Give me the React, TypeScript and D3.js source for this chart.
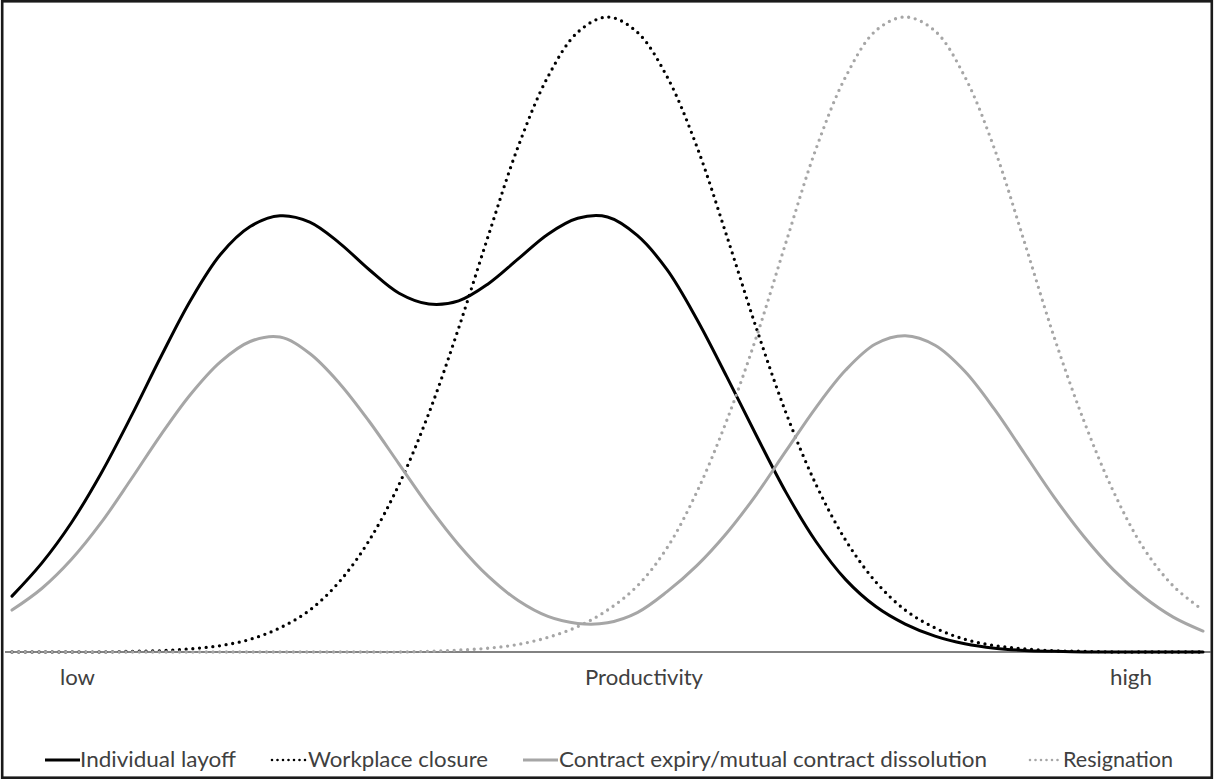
import React, { useEffect, useRef } from "react";
import * as d3 from "d3";

// Productivity position of each reading (0 = low, 100 = high)
const productivity = [
  0, 2.5, 5, 7.5, 10, 12.5, 15, 17.5, 20, 22.5, 25, 27.5, 30, 32.5, 35, 37.5,
  40, 42.5, 45, 47.5, 50, 52.5, 55, 57.5, 60, 62.5, 65, 67.5, 70, 72.5, 75,
  77.5, 80, 82.5, 85, 87.5, 90, 92.5, 95, 97.5, 100,
];

// Relative frequency (peak of the tallest curve = 100)
const layoff = [
  8.8, 14.0, 20.4, 28.2, 37.1, 46.5, 55.4, 62.6, 67.0, 68.7, 67.7, 64.4, 60.2,
  56.5, 54.8, 55.3, 58.0, 61.9, 65.8, 68.3, 68.5, 65.6, 60.2, 52.4, 43.4, 34.1,
  25.1, 17.4, 11.4, 7.2, 4.4, 2.5, 1.3, 0.6, 0.25, 0.1, 0, 0, 0, 0, 0,
];
const closure = [
  0, 0, 0, 0, 0.1, 0.2, 0.5, 1.0, 2.0, 3.8, 6.6, 11.1, 17.6, 26.4, 37.6, 51.0,
  65.6, 79.6, 90.6, 97.6, 100, 97.6, 90.6, 79.6, 65.6, 51.0, 37.6, 26.4, 17.6,
  11.1, 6.6, 3.8, 2.0, 1.0, 0.5, 0.2, 0.1, 0, 0, 0, 0,
];
const contract = [
  6.6, 10.0, 14.6, 20.4, 27.2, 34.2, 40.6, 45.7, 48.9, 49.6, 47.0, 42.3, 36.3,
  29.6, 22.9, 16.9, 11.9, 8.1, 5.6, 4.5, 4.6, 6.2, 9.5, 13.6, 18.7, 24.8, 31.7,
  38.5, 44.4, 48.5, 49.8, 48.3, 44.2, 38.2, 31.3, 24.4, 18.2, 12.9, 8.7, 5.5,
  3.3,
];
const resignation = [
  0, 0, 0, 0, 0, 0, 0, 0, 0, 0, 0, 0, 0, 0, 0.1, 0.3, 0.6, 1.2, 2.3, 4.0, 6.6,
  10.4, 16.4, 25.2, 36.4, 49.6, 64.6, 79.2, 90.6, 97.8, 100, 97.8, 90.6, 79.2,
  64.6, 49.6, 36.4, 25.2, 16.4, 10.4, 6.6,
];

const seriesNames = [
  "Individual layoff",
  "Workplace closure",
  "Contract expiry/mutual contract dissolution",
  "Resignation",
];
const axisLabels = ["low", "Productivity", "high"];

function App() {
  const ref = useRef<SVGSVGElement | null>(null);

  useEffect(() => {
    const width = 1214,
      height = 780;
    const margin = { left: 12, right: 11, top: 17, bottom: 128 };
    const textColor = "#404040";
    const font = "Lato, 'Liberation Sans', sans-serif";

    const svg = d3.select(ref.current);
    svg.selectAll("*").remove();
    svg.attr("width", width).attr("height", height);

    svg
      .append("rect")
      .attr("width", width)
      .attr("height", height)
      .attr("fill", "#fff");

    // Outer frame
    svg
      .append("rect")
      .attr("x", 2.2)
      .attr("y", 1.3)
      .attr("width", 1209.6)
      .attr("height", 776.4)
      .attr("fill", "none")
      .attr("stroke", "#1a1a1a")
      .attr("stroke-width", 2.6);

    const x = d3
      .scaleLinear()
      .domain([0, 100])
      .range([margin.left, width - margin.right]);
    const y = d3
      .scaleLinear()
      .domain([0, 100])
      .range([height - margin.bottom, margin.top]);

    // Horizontal axis line
    svg
      .append("line")
      .attr("x1", 5)
      .attr("x2", 1211)
      .attr("y1", y(0))
      .attr("y2", y(0))
      .attr("stroke", "#595959")
      .attr("stroke-width", 1.5);

    const styles = [
      { color: "#000", dash: null },
      { color: "#000", dash: "0 6.7" },
      { color: "#a6a6a6", dash: null },
      { color: "#a6a6a6", dash: "0 6.7" },
    ];
    const allSeries = [layoff, closure, contract, resignation];

    const line = d3
      .line<number>()
      .x((d, i) => x(productivity[i]))
      .y((d) => y(d))
      .curve(d3.curveCatmullRom.alpha(0.5));

    allSeries.forEach((values, k) => {
      const s = styles[k];
      svg
        .append("path")
        .datum(values)
        .attr("d", line)
        .attr("fill", "none")
        .attr("stroke", s.color)
        .attr("stroke-width", s.dash ? 3.3 : 3)
        .attr("stroke-linecap", "round")
        .attr("stroke-dasharray", s.dash);
    });

    // Axis end labels and title
    const labelPos = [
      { x: 60, w: 35, anchor: "start" },
      { x: 644, w: 118, anchor: "middle" },
      { x: 1110, w: 42, anchor: "start" },
    ];
    axisLabels.forEach((t, i) => {
      svg
        .append("text")
        .attr("x", labelPos[i].x)
        .attr("y", 685)
        .attr("text-anchor", labelPos[i].anchor)
        .attr("font-family", font)
        .attr("font-size", 21)
        .attr("fill", textColor)
        .attr("textLength", labelPos[i].w)
        .attr("lengthAdjust", "spacingAndGlyphs")
        .text(t);
    });

    // Legend
    const legend = [
      { x1: 45, x2: 80, tx: 80, w: 156 },
      { x1: 272, x2: 306, tx: 308, w: 180 },
      { x1: 523, x2: 558, tx: 559, w: 428 },
      { x1: 1030, x2: 1062, tx: 1063, w: 110 },
    ];
    const legendY = 760;
    seriesNames.forEach((name, k) => {
      const s = styles[k];
      const l = legend[k];
      svg
        .append("line")
        .attr("x1", l.x1)
        .attr("x2", l.x2)
        .attr("y1", legendY)
        .attr("y2", legendY)
        .attr("stroke", s.color)
        .attr("stroke-width", s.dash ? 2.6 : 3)
        .attr("stroke-linecap", s.dash ? "round" : "butt")
        .attr("stroke-dasharray", s.dash ? "0 5.5" : null);
      svg
        .append("text")
        .attr("x", l.tx)
        .attr("y", legendY + 7)
        .attr("font-family", font)
        .attr("font-size", 21)
        .attr("fill", textColor)
        .attr("textLength", l.w)
        .attr("lengthAdjust", "spacingAndGlyphs")
        .text(name);
    });
  }, []);

  return (
    <svg
      ref={ref}
      style={{ position: "absolute", left: 0, top: 0, display: "block" }}
    ></svg>
  );
}

export default App;
